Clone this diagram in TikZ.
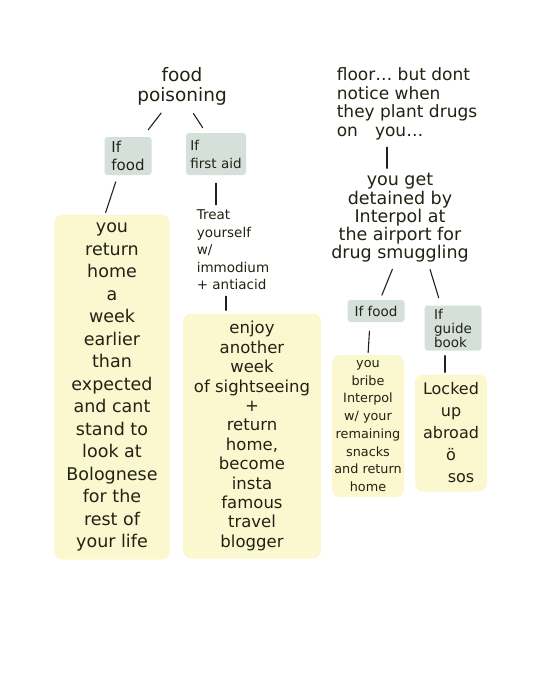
\documentclass[tikz,border=0pt]{standalone}
\usepackage{fontspec}
\setmainfont{DejaVu Sans}
\usepackage{tikz}
\usepackage{xcolor}
\definecolor{ink}{HTML}{222214}
\definecolor{hilite}{HTML}{FBF8CF}
\definecolor{tagbg}{HTML}{D6E0DA}

\begin{document}
\begin{tikzpicture}[
    x=1pt, y=-1pt,
    text node/.style={align=center, text=ink, inner sep=0pt},
    tag node/.style={rectangle, fill=tagbg, text=ink, inner sep=0pt, align=left, rounded corners=3pt},
    hilite node/.style={rectangle, fill=hilite, text=ink, inner sep=0pt, align=center, rounded corners=8pt},
    link/.style={draw=ink, line width=1.1pt, line cap=round, shorten <=6pt, shorten >=6pt}
  ]
  \useasboundingbox[fill=white] (0,0) rectangle (540,698);

  \node[text node, font=\fontsize{18.5}{20}\selectfont] (root) at (182,86) {food\\poisoning};
  \node[tag node, minimum width=47, minimum height=38, font=\fontsize{15}{18}\selectfont] (ifFoodA) at (128,156) {If\\food};
  \node[tag node, minimum width=60, minimum height=42, font=\fontsize{13.5}{18}\selectfont] (ifAid) at (216,154) {If\\first aid};
  \node[hilite node, minimum width=115, minimum height=345, font=\fontsize{17.5}{22.5}\selectfont] (outcomeA) at (112,387)
    {you\\return\\home\\a\\week\\earlier\\than\\expected\\and cant\\stand to\\look at\\Bolognese\\for the\\rest of\\your life};
  \node[text node, align=left, font=\fontsize{13.5}{17.5}\selectfont] (treat) at (233,250)
    {Treat\\yourself\\w/\\immodium\\+ antiacid};
  \node[hilite node, minimum width=138, minimum height=245, font=\fontsize{16.5}{19.4}\selectfont] (outcomeB) at (252,436)
    {enjoy\\another\\week\\of sightseeing\\+\\return\\home,\\become\\insta\\famous\\travel\\blogger};

  \node[text node, align=left, font=\fontsize{17}{18.5}\selectfont] (rightTop) at (407,104)
    {floor\dots\ but dont\\notice when\\they plant drugs\\on\quad you\dots};
  \node[text node, font=\fontsize{17.5}{18.3}\selectfont] (detained) at (400,218)
    {you get\\detained by\\Interpol at\\the airport for\\drug smuggling};
  \node[tag node, minimum width=57, minimum height=22, font=\fontsize{13.5}{15}\selectfont] (ifFoodB) at (376,311) {If food};
  \node[tag node, minimum width=57, minimum height=45, font=\fontsize{13.5}{14}\selectfont] (ifGuide) at (453,328) {If\\guide\\book};
  \node[hilite node, minimum width=72, minimum height=142, font=\fontsize{12.8}{17.7}\selectfont] (outcomeC) at (368,426)
    {you\\bribe\\Interpol\\w/ your\\remaining\\snacks\\and return\\home};
  \node[hilite node, minimum width=72, minimum height=117, font=\fontsize{16}{22}\selectfont] (outcomeD) at (451,433)
    {Locked\\up\\abroad\\\"o\\\hspace*{20pt}sos};

  \draw[link, shorten <=10pt, shorten >=9pt] (root) -- (ifFoodA);
  \draw[link, shorten <=10pt, shorten >=6pt] ([xshift=6pt]root.south) -- ([xshift=-10pt]ifAid.north);
  \draw[link, shorten <=7pt, shorten >=2pt] ([xshift=-10pt]ifFoodA.south) -- ([xshift=-7pt]outcomeA.north);
  \draw[link, shorten <=8pt, shorten >=5pt] (ifAid.south) -- (ifAid.south |- treat.north);
  \draw[link, shorten <=6pt, shorten >=3pt] ([xshift=-7pt]treat.south) -- ([xshift=-7pt]treat.south |- outcomeB.north);
  \draw[link, shorten <=7pt, shorten >=5pt] ([xshift=-20pt]rightTop.south) -- ([xshift=-20pt]rightTop.south |- detained.north);
  \draw[link, shorten <=7pt, shorten >=5pt] ([xshift=-5pt]detained.south) -- ([xshift=4pt]ifFoodB.north);
  \draw[link, shorten <=7pt, shorten >=8pt] ([xshift=28pt]detained.south) -- ([xshift=-12pt]ifGuide.north);
  \draw[link, shorten <=9pt, shorten >=2pt] ([xshift=-6pt]ifFoodB.south) -- (outcomeC.north);
  \draw[link, shorten <=5pt, shorten >=2pt] ([xshift=-8pt]ifGuide.south) -- ([xshift=-8pt]ifGuide.south |- outcomeD.north);
\end{tikzpicture}
\end{document}
